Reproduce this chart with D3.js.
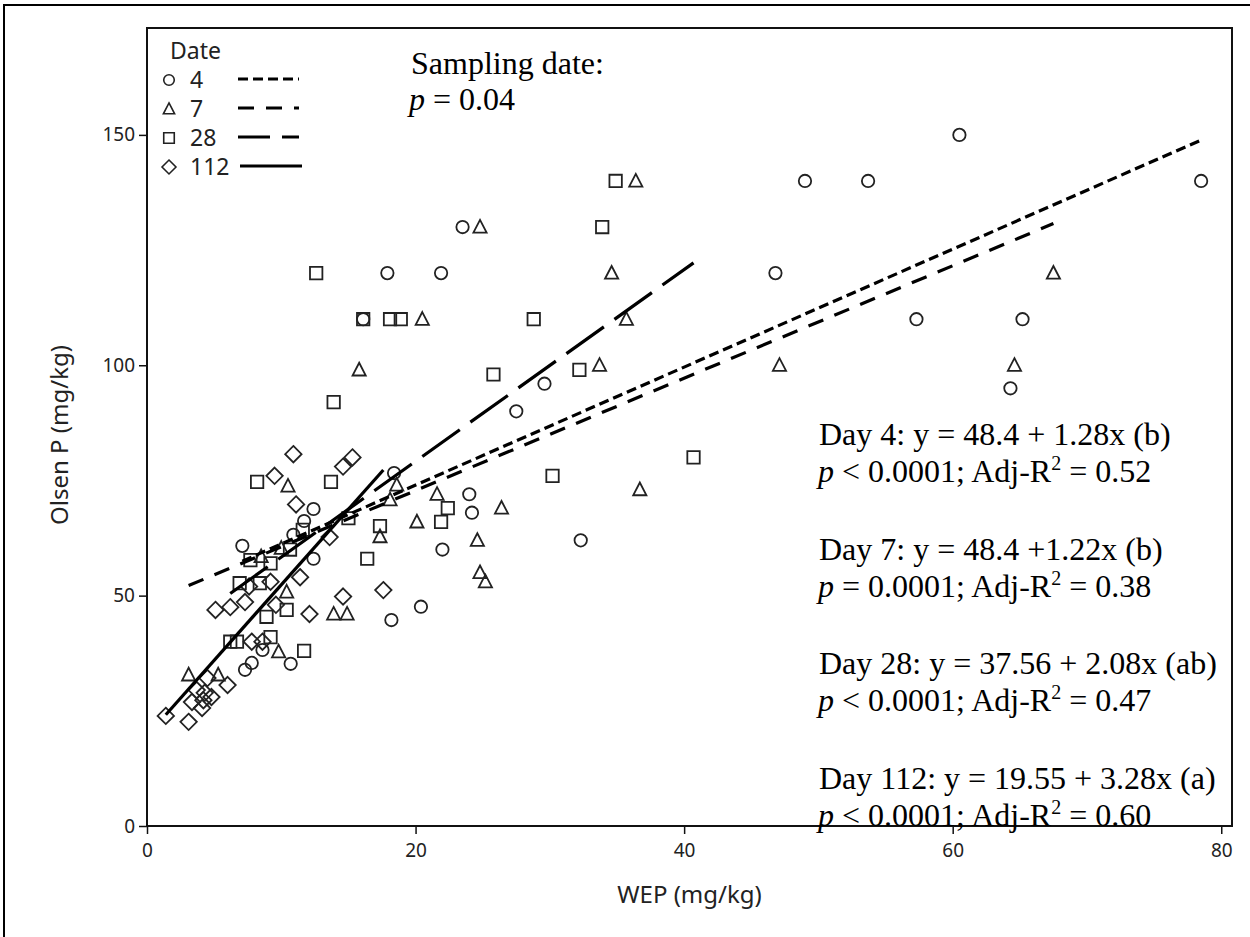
<!DOCTYPE html>
<html>
<head>
<meta charset="utf-8">
<script src="https://cdn.jsdelivr.net/npm/d3@7"></script>
<style>
  body { margin: 0; background: #fff; }
  svg { display: block; }
</style>
</head>
<body>
<svg id="chart" width="1250" height="937"></svg>
<script>
// ---- data: WEP (x, mg/kg) vs Olsen P (y, mg/kg) by sampling date ----
const dates = ["4", "7", "28", "112"];
const xTicks = [0, 20, 40, 60, 80];
const yTicks = [0, 50, 100, 150];

const day4 = [
  [60.5,150],[49.0,140],[53.7,140],[78.5,140],[46.8,120],[57.3,110],[65.2,110],[64.3,95],
  [23.5,130],[17.9,120],[21.9,120],[16.1,110],[29.6,96],[27.5,90],[32.3,62],[22.0,60],
  [24.0,72],[24.2,68],[20.4,47.6],[18.2,44.7],[18.4,76.6],[12.4,68.8],[11.7,66.2],
  [10.9,63.2],[12.4,58],[7.1,60.8],[8.6,38.2],[10.7,35.2],[7.8,35.4],[7.3,33.9]
];
const day7 = [
  [36.4,140],[24.8,130],[34.6,120],[67.5,120],[20.5,110],[35.7,110],[15.8,99],[33.7,100],
  [47.1,100],[64.6,100],[36.7,73],[26.4,69],[21.6,72],[20.1,66],[24.6,62],[24.8,55],
  [25.2,53],[18.6,74],[18.1,70.8],[17.35,62.8],[10.5,73.8],[10.4,50.8],[13.9,46],
  [14.9,46],[9.8,37.8],[3.1,32.8],[5.3,32.8],[10.0,60.3],[8.5,58.5]
];
const day28 = [
  [34.9,140],[33.9,130],[12.6,120],[16.1,110],[18.1,110],[18.9,110],[28.8,110],[13.9,92],
  [25.8,98],[32.2,99],[40.7,80],[30.2,76],[8.2,74.7],[13.7,74.7],[11.6,64.3],[15.0,66.8],
  [17.35,65.1],[21.9,66],[22.4,69],[16.4,58],[7.7,57.7],[9.2,57],[6.9,52.7],[8.4,52.7],
  [10.65,60],[10.4,46.9],[8.9,45.4],[6.2,40],[6.7,40],[9.2,41],[11.7,38]
];
const day112 = [
  [10.9,80.7],[9.5,76],[14.6,78],[15.3,80],[11.1,69.8],[13.6,62.7],[11.4,54],[17.6,51.2],
  [14.6,49.8],[12.1,46],[9.2,53],[7.6,52],[5.1,46.9],[6.2,47.5],[7.3,48.6],[9.6,48],
  [7.8,40],[8.6,40],[4.5,32.1],[6.0,30.6],[3.7,29.5],[4.3,28.9],[4.8,28],[4.2,27.3],
  [3.35,26.9],[4.1,25.6],[1.4,23.9],[3.1,22.6]
];

// fitted regressions: y = a + b x
const intercepts = [48.4, 48.4, 37.56, 19.55];
const slopes = [1.28, 1.22, 2.08, 3.28];

const eqLabels = [
  "Day 4: y = 48.4 + 1.28x (b)",
  "Day 7: y = 48.4 +1.22x (b)",
  "Day 28: y = 37.56 + 2.08x (ab)",
  "Day 112: y = 19.55 + 3.28x (a)"
];
const pRel = ["<", "=", "<", "<"];
const pVals = ["0.0001", "0.0001", "0.0001", "0.0001"];
const adjR2 = ["0.52", "0.38", "0.47", "0.60"];

// ---- layout ----
const svg = d3.select("#chart");
const plot = { left: 147, top: 28, right: 1232, bottom: 826 };
const x = d3.scaleLinear().domain([0, 80.8]).range([plot.left, plot.right]);
const y = d3.scaleLinear().domain([0, 173.2]).range([plot.bottom, plot.top]);

const sans = "'Noto Sans', 'Open Sans', sans-serif";
const serif = "'Liberation Serif', 'Times New Roman', serif";
const ink = "#111";

// outer border of the figure
svg.append("rect")
  .attr("x", 4).attr("y", 5).attr("width", 1300).attr("height", 1000)
  .attr("fill", "none").attr("stroke", "#000").attr("stroke-width", 2);

// ---- marker shapes as d3 symbol types (size = half-width in px) ----
const symCircle = { draw(ctx, s) { ctx.moveTo(s, 0); ctx.arc(0, 0, s, 0, 2 * Math.PI); ctx.closePath(); } };
const symTriangle = { draw(ctx, s) { ctx.moveTo(0, -s * 1.08); ctx.lineTo(s, s * 0.85); ctx.lineTo(-s, s * 0.85); ctx.closePath(); } };
const symSquare = { draw(ctx, s) { ctx.moveTo(-s, -s); ctx.lineTo(s, -s); ctx.lineTo(s, s); ctx.lineTo(-s, s); ctx.closePath(); } };
const symDiamond = { draw(ctx, s) { ctx.moveTo(0, -s); ctx.lineTo(s, 0); ctx.lineTo(0, s); ctx.lineTo(-s, 0); ctx.closePath(); } };

const series = [
  { name: dates[0], pts: day4,   sym: symCircle,   size: 6.2, dash: "10,5" },
  { name: dates[1], pts: day7,   sym: symTriangle, size: 6.6, dash: "16,12" },
  { name: dates[2], pts: day28,  sym: symSquare,   size: 6.2, dash: "46,13" },
  { name: dates[3], pts: day112, sym: symDiamond,  size: 8.2, dash: null }
];
const legendDash = ["10,5", "16,12", "32,12", null];

// ---- axes ----
const xAxis = svg.append("g")
  .attr("transform", `translate(0,${plot.bottom})`)
  .call(d3.axisBottom(x).tickValues(xTicks).tickSize(8).tickPadding(10).tickSizeOuter(0));
const yAxis = svg.append("g")
  .attr("transform", `translate(${plot.left},0)`)
  .call(d3.axisLeft(y).tickValues(yTicks).tickSize(8).tickPadding(4).tickSizeOuter(0));
[xAxis, yAxis].forEach(g => {
  g.select(".domain").remove();
  g.selectAll("line").attr("stroke", ink).attr("stroke-width", 1.5);
  g.selectAll("text").attr("font-family", sans).attr("font-size", 19).attr("fill", "#222");
});

// plot frame
svg.append("rect")
  .attr("x", plot.left).attr("y", plot.top)
  .attr("width", plot.right - plot.left).attr("height", plot.bottom - plot.top)
  .attr("fill", "none").attr("stroke", ink).attr("stroke-width", 2);

// axis titles
svg.append("text")
  .attr("x", (plot.left + plot.right) / 2).attr("y", 903)
  .attr("text-anchor", "middle")
  .attr("font-family", sans).attr("font-size", 24).attr("fill", "#222")
  .text("WEP (mg/kg)");
svg.append("text")
  .attr("transform", `translate(68,${(plot.top + plot.bottom) / 2 + 8}) rotate(-90)`)
  .attr("text-anchor", "middle")
  .attr("font-family", sans).attr("font-size", 24).attr("fill", "#222")
  .text("Olsen P (mg/kg)");

// ---- markers ----
series.forEach(s => {
  svg.append("g").selectAll("path")
    .data(s.pts)
    .join("path")
    .attr("transform", d => `translate(${x(d[0])},${y(d[1])})`)
    .attr("d", d3.symbol().type(s.sym).size(s.size))
    .attr("fill", "none").attr("stroke", "#222").attr("stroke-width", 1.8);
});

// ---- regression lines over each series' WEP range ----
series.forEach((s, i) => {
  const ext = d3.extent(s.pts, d => d[0]);
  const f = v => intercepts[i] + slopes[i] * v;
  svg.append("line")
    .attr("x1", x(ext[0])).attr("y1", y(f(ext[0])))
    .attr("x2", x(ext[1])).attr("y2", y(f(ext[1])))
    .attr("stroke", "#000").attr("stroke-width", 3.2)
    .attr("stroke-dasharray", s.dash);
});

// ---- legend ----
const legend = svg.append("g").attr("font-family", sans).attr("fill", "#222");
legend.append("text").attr("x", 170).attr("y", 59).attr("font-size", 23).text("Date");
series.forEach((s, i) => {
  const cy = 80 + i * 29;
  legend.append("path")
    .attr("transform", `translate(169,${cy})`)
    .attr("d", d3.symbol().type(s.sym).size(s.size * 0.85))
    .attr("fill", "none").attr("stroke", "#222").attr("stroke-width", 1.6);
  legend.append("text").attr("x", 190).attr("y", cy + 8).attr("font-size", 23).text(s.name);
  legend.append("line")
    .attr("x1", i === 3 ? 240 : 238).attr("x2", i === 3 ? 302 : 299)
    .attr("y1", cy - 1).attr("y2", cy - 1)
    .attr("stroke", "#000").attr("stroke-width", 3.2)
    .attr("stroke-dasharray", legendDash[i]);
});

// ---- annotations ----
const note = svg.append("g").attr("font-family", serif).attr("font-size", 32).attr("fill", "#000");
note.append("text").attr("x", 411).attr("y", 74).text("Sampling date:");
const pt = note.append("text").attr("x", 409).attr("y", 110);
pt.append("tspan").attr("font-style", "italic").text("p");
pt.append("tspan").text(" = 0.04");

eqLabels.forEach((lab, i) => {
  const base = 445 + i * 114.7;
  note.append("text").attr("x", 819).attr("y", base).text(lab);
  const t = note.append("text").attr("x", 818).attr("y", base + 37);
  t.append("tspan").attr("font-style", "italic").text("p");
  t.append("tspan").text(` ${pRel[i]} ${pVals[i]}; Adj-R`);
  t.append("tspan").attr("font-size", 20).attr("dy", -12).text("2");
  t.append("tspan").attr("dy", 12).text(` = ${adjR2[i]}`);
});
</script>
</body>
</html>
